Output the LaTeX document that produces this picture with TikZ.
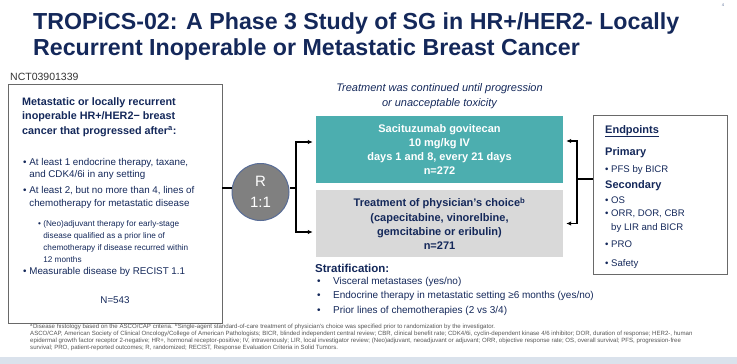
\documentclass[tikz,border=0pt]{standalone}
\usepackage{fontspec}
\setmainfont{Liberation Sans}
\usepackage{tikz}
\usetikzlibrary{arrows.meta}
\definecolor{navy}{RGB}{20,40,90}
\definecolor{sgteal}{RGB}{76,174,175}
\definecolor{tpcgray}{RGB}{217,217,217}
\definecolor{rgray}{RGB}{128,128,128}
\definecolor{rline}{RGB}{88,108,150}
\definecolor{boxline}{RGB}{105,105,105}
\definecolor{fngray}{RGB}{85,85,85}
\definecolor{barblue}{RGB}{218,226,236}
\newcommand{\fsz}[2]{\fontsize{#1}{#2}\selectfont}
\newcommand{\bul}{\textbullet\ }
\newcommand{\hbul}{\hphantom{\textbullet\ }}
\tikzset{
  txt/.style={inner sep=0pt, text=navy, align=left, anchor=base west},
  armbox/.style={minimum width=247pt, minimum height=67pt, inner sep=0pt, align=center, font=\bfseries\fsz{11}{14.2}},
  conn/.style={line width=1.4pt},
  tip/.style={conn, -{Latex[length=5pt,width=4.5pt]}, shorten >=3pt}
}

\begin{document}
\begin{tikzpicture}[x=1pt,y=-1pt]
\useasboundingbox (0,0) rectangle (737,364);
% title (base = last line)
\node (title) [txt, font=\bfseries\fsz{23.2}{26}] at (33,55) {TROPiCS-02: A Phase 3 Study of SG in HR+/HER2- Locally\\Recurrent Inoperable or Metastatic Breast Cancer};
\node (pg) [inner sep=0pt, text=rline, font=\fsz{4}{5}] at (723,5) {4};
\node (nct) [txt, text=black!80, font=\fsz{10.5}{12}] at (10,80) {NCT03901339};

% eligibility box
\node (elig) [draw=boxline, line width=0.8pt, minimum width=214pt, minimum height=239pt, anchor=north west, inner sep=0pt] at (8,84) {};
\node (eligh) [txt, font=\bfseries\fsz{10.8}{14.3}] at (22,134) {Metastatic or locally recurrent\\inoperable HR+/HER2− breast\\cancer that progressed after\textsuperscript{a}:};
\node (crit1) [txt, font=\fsz{9.8}{12}] at (23,177) {\bul At least 1 endocrine therapy, taxane,\\\hbul and CDK4/6i in any setting};
\node (crit2) [txt, font=\fsz{9.8}{13}] at (23,206) {\bul At least 2, but no more than 4, lines of\\\hbul chemotherapy for metastatic disease};
\node (crit2a) [txt, font=\fsz{8.2}{12}] at (38,262) {\bul (Neo)adjuvant therapy for early-stage\\\hbul disease qualified as a prior line of\\\hbul chemotherapy if disease recurred within\\\hbul 12 months};
\node (crit3) [txt, font=\fsz{9.8}{12}] at (23,274) {\bul Measurable disease by RECIST 1.1};
\node (nall) [txt, anchor=base, font=\fsz{9.8}{12}] at (115,303) {N=543};

% randomisation
\node (R) [circle, fill=rgray, draw=rline, line width=1pt, minimum size=57pt, inner sep=0pt, text=white, align=center, font=\fsz{15}{21}] at (260.5,192) {R\\1:1};
\coordinate (eligout) at (222,188);
\coordinate (split) at (296,188);

% arms
\node (cont) [txt, anchor=base, align=center, font=\itshape\fsz{11}{15}] at (439.5,106) {Treatment was continued until progression\\or unacceptable toxicity};
\node (sg) [armbox, fill=sgteal, text=white] at (439.5,149.5) {Sacituzumab govitecan\\10 mg/kg IV\\days 1 and 8, every 21 days\\n=272};
\node (tpc) [armbox, fill=tpcgray, text=navy] at (439.5,223.5) {Treatment of physician’s choice\textsuperscript{b}\\(capecitabine, vinorelbine,\\gemcitabine or eribulin)\\n=271};

% stratification
\node (strat) [txt, font=\bfseries\fsz{11.5}{14}] at (315,272) {Stratification:};
\node (strat1) [txt, font=\fsz{10}{14.5}] at (317,313) {\textbullet\\\textbullet\\\textbullet};
\node (strat2) [txt, font=\fsz{10}{14.5}] at (333,313) {Visceral metastases (yes/no)\\Endocrine therapy in metastatic setting ≥6 months (yes/no)\\Prior lines of chemotherapies (2 vs 3/4)};

% endpoints
\node (ep) [draw=boxline, line width=0.8pt, minimum width=134pt, minimum height=159pt, inner sep=0pt] at (660,194.5) {};
\node (eph) [txt, font=\bfseries\fsz{11}{13}] at (605,133) {\underline{Endpoints}};
\node (prim) [txt, font=\bfseries\fsz{11}{13}] at (605,155) {Primary};
\node (prim1) [txt, font=\fsz{9.6}{13}] at (605,172) {\bul PFS by BICR};
\node (sec) [txt, font=\bfseries\fsz{11}{13}] at (605,188) {Secondary};
\node (sec1) [txt, font=\fsz{9.6}{13.5}] at (605,230) {\bul OS\\\bul ORR, DOR, CBR\\\hbul by LIR and BICR};
\node (sec2) [txt, font=\fsz{9.6}{13}] at (605,247) {\bul PRO};
\node (sec3) [txt, font=\fsz{9.6}{13}] at (605,266) {\bul Safety};
\coordinate (epsplit) at (577,179);

% connectors
\draw[conn] (eligout) -- (eligout -| R.west);
\draw[conn] (split -| R.east) -- (split);
\draw[tip] (split) |- ([yshift=7.5pt]sg.west);
\draw[tip] (split) |- ([yshift=-8.5pt]tpc.west);
\draw[conn] (ep.west |- epsplit) -- (epsplit);
\draw[tip] (epsplit) |- ([yshift=8.5pt]sg.east);
\draw[tip] (epsplit) |- (tpc.east);

% footnotes
\node (fn) [txt, text=fngray, font=\fsz{6.1}{6.7}] at (30,349) {\textsuperscript{a}Disease histology based on the ASCO/CAP criteria. \textsuperscript{b}Single-agent standard-of-care treatment of physician’s choice was specified prior to randomization by the investigator.\\ASCO/CAP, American Society of Clinical Oncology/College of American Pathologists; BICR, blinded independent central review; CBR, clinical benefit rate; CDK4/6i, cyclin-dependent kinase 4/6 inhibitor; DOR, duration of response; HER2-, human\\epidermal growth factor receptor 2-negative; HR+, hormonal receptor-positive; IV, intravenously; LIR, local investigator review; (Neo)adjuvant, neoadjuvant or adjuvant; ORR, objective response rate; OS, overall survival; PFS, progression-free\\survival; PRO, patient-reported outcomes; R, randomized; RECIST, Response Evaluation Criteria in Solid Tumors.};
\fill[barblue] (0,357) rectangle (737,364);
\end{tikzpicture}
\end{document}
